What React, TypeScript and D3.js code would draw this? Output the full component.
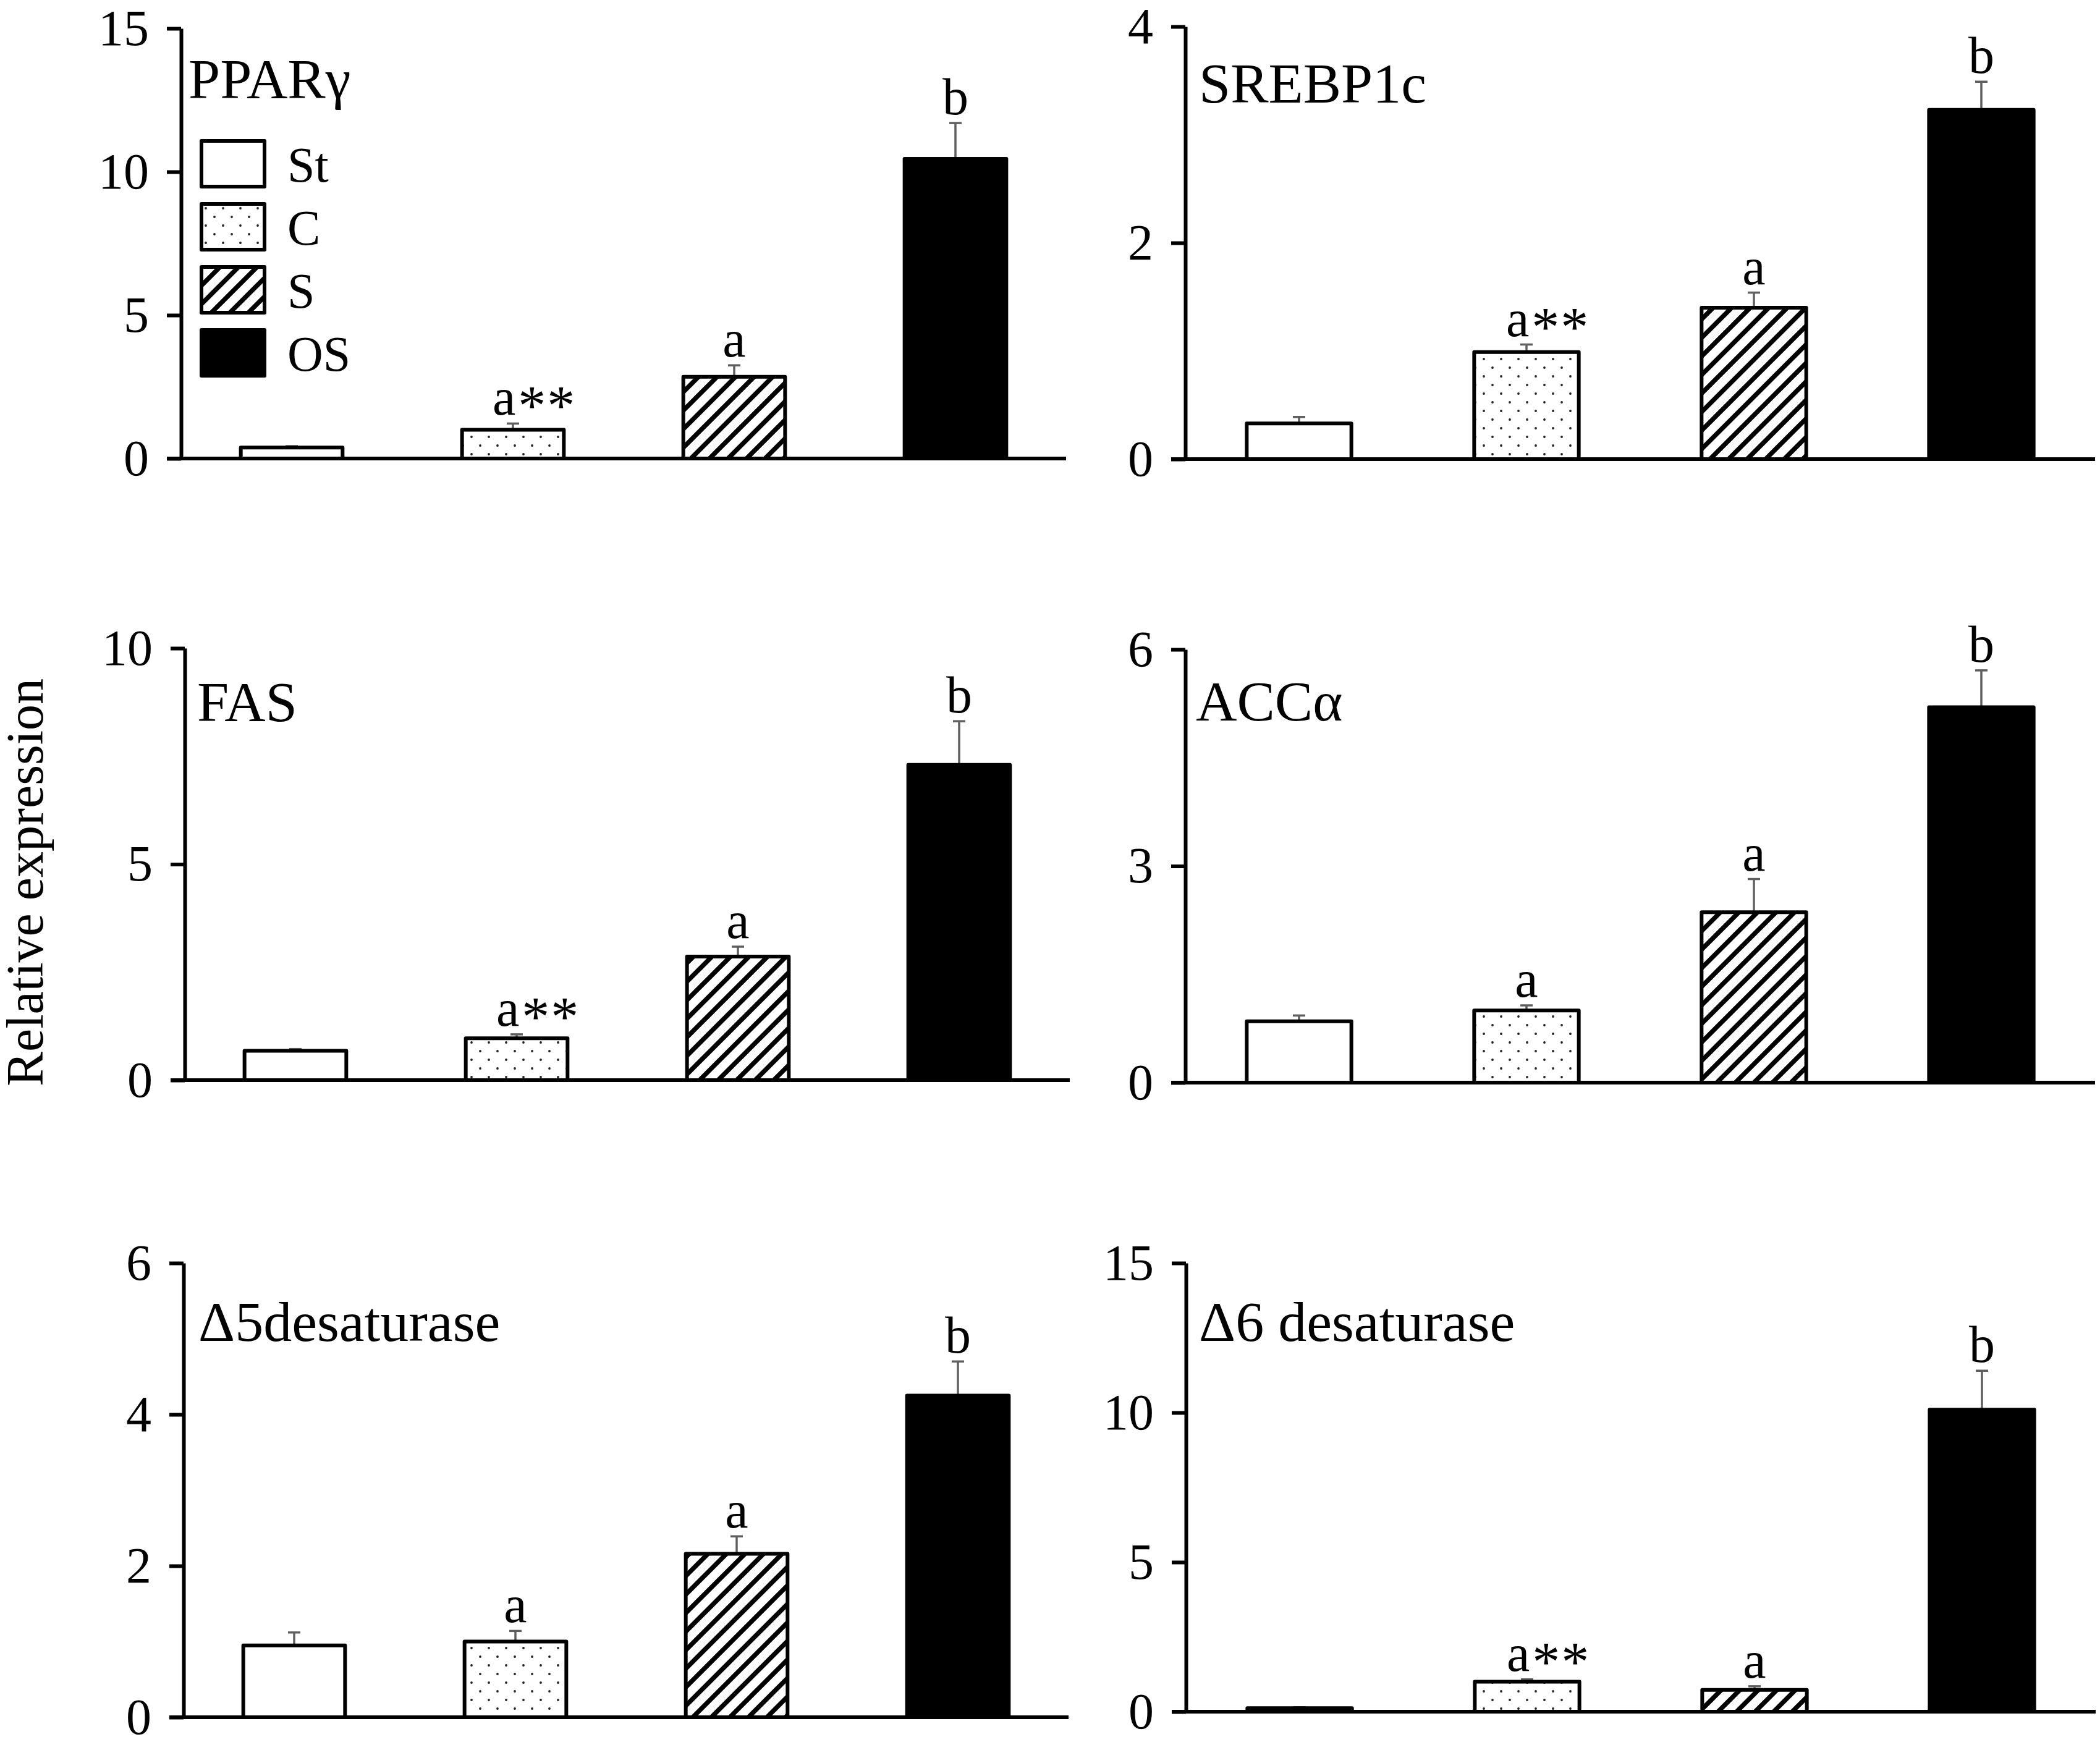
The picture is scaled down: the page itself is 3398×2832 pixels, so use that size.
import React, { useRef, useEffect } from 'react';
import * as d3 from 'd3';

// groups and genes
const groups = ['St', 'C', 'S', 'OS'];
const genes = ['PPARγ', 'SREBP1c', 'FAS', 'ACCα', 'Δ5desaturase', 'Δ6 desaturase'];
const yMax = [15, 4, 10, 6, 6, 15];
const yStep = [5, 2, 5, 3, 2, 5];

// means and upper error (SE) per gene, order St, C, S, OS
const pparMean = [0.38, 1.0, 2.85, 10.45];
const pparErr = [0.05, 0.22, 0.4, 1.25];
const srebpMean = [0.33, 0.99, 1.4, 3.23];
const srebpErr = [0.06, 0.07, 0.14, 0.26];
const fasMean = [0.68, 0.97, 2.86, 7.3];
const fasErr = [0.04, 0.09, 0.23, 1.01];
const accMean = [0.85, 1.0, 2.36, 5.2];
const accErr = [0.08, 0.07, 0.46, 0.51];
const d5Mean = [0.95, 1.0, 2.16, 4.25];
const d5Err = [0.17, 0.14, 0.23, 0.45];
const d6Mean = [0.12, 1.0, 0.73, 10.1];
const d6Err = [0.03, 0.08, 0.12, 1.3];

// significance letters ("a" + "**" for the starred ones)
const pparLetters = ['', 'a**', 'a', 'b'];
const srebpLetters = ['', 'a**', 'a', 'b'];
const fasLetters = ['', 'a**', 'a', 'b'];
const accLetters = ['', 'a', 'a', 'b'];
const d5Letters = ['', 'a', 'a', 'b'];
const d6Letters = ['', 'a**', 'a', 'b'];

const means = [pparMean, srebpMean, fasMean, accMean, d5Mean, d6Mean];
const errs = [pparErr, srebpErr, fasErr, accErr, d5Err, d6Err];
const letters = [pparLetters, srebpLetters, fasLetters, accLetters, d5Letters, d6Letters];

const W = 3398;
const H = 2832;
const FONT = '"Liberation Serif", "Times New Roman", serif';

// panel frames: axis x, top, bottom, right end, title offsets
const frames = [
	{ x: 293, top: 46, bottom: 742, right: 1725, tx: 12, ty: 113 },
	{ x: 1918, top: 43, bottom: 743, right: 3390, tx: 22, ty: 123 },
	{ x: 299, top: 1049, bottom: 1748, right: 1731, tx: 20, ty: 118 },
	{ x: 1918, top: 1051, bottom: 1752, right: 3390, tx: 17, ty: 115 },
	{ x: 297, top: 2044, bottom: 2779, right: 1729, tx: 24, ty: 126 },
	{ x: 1919, top: 2044, bottom: 2770, right: 3391, tx: 21, ty: 126 },
];

const fills = ['#fff', 'url(#dots)', 'url(#hatch)', '#000'];

const App: React.FC = () => {
	const svgRef = useRef<SVGSVGElement | null>(null);

	useEffect(() => {
		if (!svgRef.current) return;
		const svg = d3.select(svgRef.current);
		svg.selectAll('*').remove();

		const defs = svg.append('defs');
		const dots = defs.append('pattern')
			.attr('id', 'dots')
			.attr('patternUnits', 'userSpaceOnUse')
			.attr('width', 28)
			.attr('height', 28);
		dots.append('rect').attr('width', 28).attr('height', 28).attr('fill', '#fff');
		dots.append('circle').attr('cx', 7).attr('cy', 7).attr('r', 1.9).attr('fill', '#222');
		dots.append('circle').attr('cx', 21).attr('cy', 21).attr('r', 1.9).attr('fill', '#222');

		const hatch = defs.append('pattern')
			.attr('id', 'hatch')
			.attr('patternUnits', 'userSpaceOnUse')
			.attr('width', 30)
			.attr('height', 30);
		hatch.append('rect').attr('width', 30).attr('height', 30).attr('fill', '#fff');
		hatch.append('path')
			.attr('d', 'M0,30L30,0M-15,15L15,-15M15,45L45,15')
			.attr('stroke', '#000')
			.attr('stroke-width', 7.5);

		svg.append('rect').attr('width', W).attr('height', H).attr('fill', '#fff');

		genes.forEach((gene, gi) => {
			const f = frames[gi];
			const g = svg.append('g');

			const x = d3.scaleBand<string>()
				.domain(groups)
				.range([f.x, f.right])
				.paddingInner(0.54)
				.paddingOuter(0.27);
			const y = d3.scaleLinear().domain([0, yMax[gi]]).range([f.bottom, f.top]);
			const cx = (k: string) => x(k)! + x.bandwidth() / 2;

			const rows = groups.map((k, i) => ({ k, v: means[gi][i], e: errs[gi][i], l: letters[gi][i], i }));

			// error bars (upper only)
			const eb = g.append('g').attr('stroke', '#5f5f5f').attr('stroke-width', 3.5);
			eb.selectAll('line.v')
				.data(rows)
				.join('line')
				.attr('class', 'v')
				.attr('x1', d => cx(d.k))
				.attr('x2', d => cx(d.k))
				.attr('y1', d => y(d.v))
				.attr('y2', d => y(d.v + d.e));
			eb.selectAll('line.c')
				.data(rows)
				.join('line')
				.attr('class', 'c')
				.attr('x1', d => cx(d.k) - 10)
				.attr('x2', d => cx(d.k) + 10)
				.attr('y1', d => y(d.v + d.e))
				.attr('y2', d => y(d.v + d.e));

			// bars
			g.append('g')
				.selectAll('rect')
				.data(rows)
				.join('rect')
				.attr('x', d => x(d.k)!)
				.attr('y', d => y(d.v))
				.attr('width', x.bandwidth())
				.attr('height', d => y(0) - y(d.v))
				.attr('fill', d => fills[d.i])
				.attr('stroke', '#000')
				.attr('stroke-width', 6)
				.attr('stroke-linejoin', 'round');

			// significance letters
			const lab = g.append('g')
				.attr('font-family', FONT)
				.attr('font-size', 84)
				.selectAll('text')
				.data(rows.filter(d => d.l))
				.join('text')
				.attr('x', d => d.l.includes('*') ? cx(d.k) - 33 : cx(d.k))
				.attr('y', d => y(d.v + d.e) - 14)
				.attr('text-anchor', d => d.l.includes('*') ? 'start' : 'middle');
			lab.append('tspan').text(d => d.l.replace(/\*/g, ''));
			lab.filter(d => d.l.includes('*'))
				.append('tspan')
				.attr('font-size', 90)
				.attr('dy', 16)
				.attr('dx', 4)
				.attr('letter-spacing', 2)
				.text(d => d.l.replace(/[^*]/g, ''));

			// y axis
			const axis = g.append('g')
				.attr('transform', `translate(${f.x},0)`)
				.call(d3.axisLeft(y)
					.tickValues(d3.range(0, yMax[gi] + yStep[gi] / 2, yStep[gi]))
					.tickFormat(d3.format('d'))
					.tickSize(23)
					.tickSizeOuter(0)
					.tickPadding(29));
			axis.select('.domain').attr('stroke', '#000').attr('stroke-width', 6);
			axis.selectAll('.tick line').attr('stroke', '#000').attr('stroke-width', 6);
			axis.selectAll('.tick text')
				.attr('font-family', FONT)
				.attr('font-size', 82)
				.attr('fill', '#000');

			// baseline
			g.append('line')
				.attr('x1', f.x - 23)
				.attr('x2', f.right)
				.attr('y1', y(0))
				.attr('y2', y(0))
				.attr('stroke', '#000')
				.attr('stroke-width', 6);

			// gene title
			g.append('text')
				.attr('x', f.x + f.tx)
				.attr('y', f.top + f.ty)
				.attr('font-family', FONT)
				.attr('font-size', 92)
				.text(gene);
		});

		// legend in first panel
		const lg = svg.append('g').attr('font-family', FONT).attr('font-size', 80);
		const item = lg.selectAll('g')
			.data(groups)
			.join('g')
			.attr('transform', (d, i) => `translate(326,${228 + i * 102})`);
		item.append('rect')
			.attr('width', 102)
			.attr('height', 74)
			.attr('fill', (d, i) => fills[i])
			.attr('stroke', '#000')
			.attr('stroke-width', 6)
			.attr('stroke-linejoin', 'round');
		item.append('text')
			.attr('x', 139)
			.attr('y', 37)
			.attr('dy', '0.36em')
			.text(d => d);

		// shared y label
		svg.append('text')
			.attr('transform', 'translate(69,1428) rotate(-90)')
			.attr('text-anchor', 'middle')
			.attr('font-family', FONT)
			.attr('font-size', 84)
			.text('Relative expression');

		return () => {
			svg.selectAll('*').remove();
		};
	}, []);

	return (
		<svg
			ref={svgRef}
			width={W}
			height={H}
			style={{ position: 'absolute', left: 0, top: 0, display: 'block' }}
		/>
	);
};

export default App;
